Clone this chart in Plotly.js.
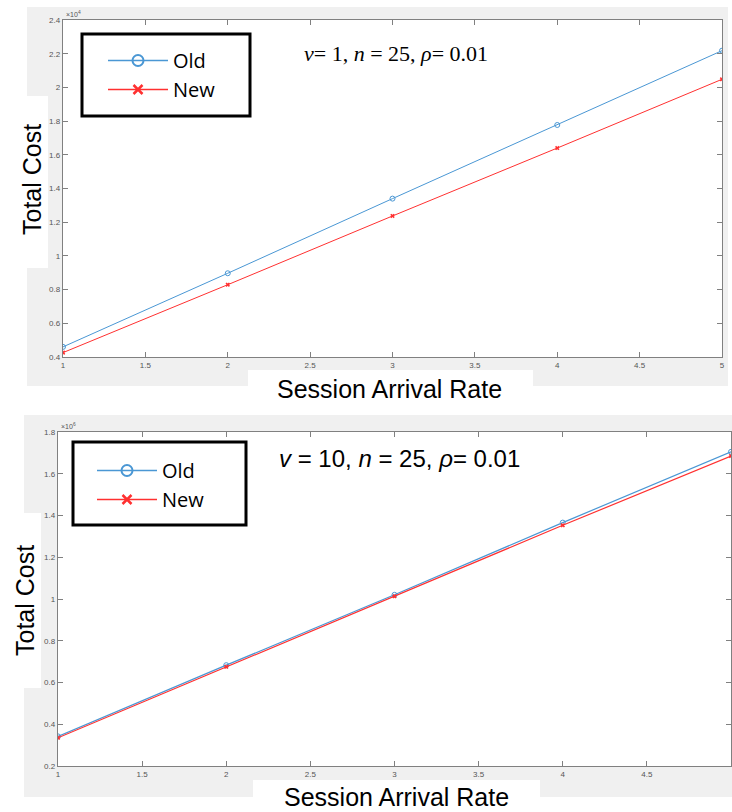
<!DOCTYPE html>
<html>
<head>
<meta charset="utf-8">
<script src="https://cdn.plot.ly/plotly-3.0.1.min.js"></script>
<style>html,body{margin:0;padding:0;background:#fff;}#chart{width:732px;height:812px;}</style>
</head>
<body>
<div id="chart"></div>
<script>
// ---- data (values in units of the axis exponent) ----
const rates = [1, 2, 3, 4, 5];
// top panel: nu = 1 (x 10^4)
const oldTop = [0.46, 0.897, 1.34, 1.777, 2.218];
const newTop = [0.426, 0.829, 1.237, 1.64, 2.048];
// bottom panel: nu = 10 (x 10^6)
const oldBottom = [0.342, 0.683, 1.02, 1.366, 1.705];
const newBottom = [0.335, 0.675, 1.013, 1.353, 1.685];
const seriesNames = ["Old", "New"];
const xTitle = "Session Arrival Rate";
const yTitle = "Total Cost";

const W = 732, H = 812;
const px = x => x / W;
const py = y => 1 - y / H;

const blue = "#4a97d4", red = "#ff3030";
const tickFont = {family: "Liberation Sans, Arial", size: 8, color: "#555"};

function axisX(domain) {
  return {domain: domain, range: [1, 5], dtick: 0.5, tick0: 1, ticks: "inside", ticklen: 5,
    tickcolor: "#808080", showline: true, linecolor: "#808080", linewidth: 1.3, mirror: "ticks",
    showgrid: false, zeroline: false, tickfont: tickFont, fixedrange: true};
}
function axisY(domain, range) {
  return {domain: domain, range: range, dtick: 0.2, tick0: 0.2, ticks: "inside", ticklen: 5,
    tickcolor: "#808080", showline: true, linecolor: "#808080", linewidth: 1.3, mirror: "ticks",
    showgrid: false, zeroline: false, tickfont: tickFont, fixedrange: true};
}

function series(y, idx, xa, ya, lw) {
  const isOld = idx === 0;
  return {x: rates, y: y, name: seriesNames[idx], type: "scatter", mode: "lines+markers", showlegend: false,
    line: {color: isOld ? blue : red, width: lw},
    marker: isOld ? {symbol: "circle-open", size: 5, color: blue, line: {width: 1}}
                  : {symbol: "x", size: 4, color: red},
    xaxis: xa, yaxis: ya};
}
// legend-only entries (no data points), styled like the reference legend samples
function legendEntry(idx, xa, ya, leg) {
  const isOld = idx === 0;
  return {x: [null], y: [null], name: seriesNames[idx], type: "scatter", mode: "lines+markers",
    line: {color: isOld ? blue : red, width: 1.5},
    marker: isOld ? {symbol: "circle-open", size: 11, color: blue, line: {width: 2}}
                  : {symbol: "x-thin-open", size: 9, color: red, line: {width: 2.5, color: red}},
    xaxis: xa, yaxis: ya, legend: leg, showlegend: true};
}

const data = [
  series(oldTop, 0, "x", "y", 1),
  series(newTop, 1, "x", "y", 1),
  series(oldBottom, 0, "x2", "y2", 1.2),
  series(newBottom, 1, "x2", "y2", 1.2),
  legendEntry(0, "x", "y", "legend"),
  legendEntry(1, "x", "y", "legend"),
  legendEntry(0, "x2", "y2", "legend2"),
  legendEntry(1, "x2", "y2", "legend2")
];

function rect(x0, y0, x1, y1, fill, layer, line) {
  return {type: "rect", xref: "paper", yref: "paper", x0: px(x0), x1: px(x1), y0: py(y1), y1: py(y0),
    fillcolor: fill, line: line || {width: 0}, layer: layer || "below"};
}

const gray = "#f0f0f0";
const shapes = [
  rect(27, 7, 728, 386, gray),
  rect(0, 96, 48, 268, "#ffffff"),
  rect(248, 370, 533, 402, "#ffffff"),
  rect(63, 20, 722, 357, "#ffffff"),
  rect(24, 415, 732, 797, gray),
  rect(0, 513, 41, 688, "#ffffff"),
  rect(253, 780, 540, 812, "#ffffff"),
  rect(58, 432, 731, 766, "#ffffff"),
  rect(82, 34, 250, 116, "rgba(0,0,0,0)", "above", {color: "#000", width: 3}),
  rect(73, 442, 246, 525, "rgba(0,0,0,0)", "above", {color: "#000", width: 3})
];

const titleFont = {family: "Liberation Sans, Arial", size: 25, color: "#000"};
function ann(text, x, y, opts) {
  return Object.assign({text: text, xref: "paper", yref: "paper", x: px(x), y: py(y), showarrow: false,
    xanchor: "center", yanchor: "middle"}, opts || {});
}
const annotations = [
  ann(yTitle, 32, 180, {textangle: -90, font: titleFont}),
  ann(xTitle, 389, 389, {font: titleFont}),
  ann(yTitle, 25, 601, {textangle: -90, font: titleFont}),
  ann(xTitle, 396, 797, {font: titleFont}),
  ann("×10<sup>4</sup>", 64, 14, {xanchor: "left", font: {family: "Liberation Sans, Arial", size: 7, color: "#555"}}),
  ann("×10<sup>6</sup>", 59, 426, {xanchor: "left", font: {family: "Liberation Sans, Arial", size: 7, color: "#555"}}),
  ann("<i>ν</i>= 1, <i>n</i> = 25, <i>ρ</i>= 0.01", 302, 53, {xanchor: "left",
    font: {family: "Liberation Serif, Times New Roman", size: 22, color: "#000"}}),
  ann("<i>v</i> = 10, <i>n</i> = 25, <i>ρ</i>= 0.01", 277, 459, {xanchor: "left",
    font: {family: "Liberation Sans, Arial", size: 24, color: "#000"}})
];

const legendFont = {family: "Open Sans, Noto Sans", size: 20, color: "#000"};
const layout = {
  width: W, height: H, margin: {l: 0, r: 0, t: 0, b: 0},
  paper_bgcolor: "#ffffff", plot_bgcolor: "#ffffff",
  xaxis: axisX([px(63), px(722)]),
  yaxis: axisY([py(357), py(20)], [0.4, 2.4]),
  xaxis2: Object.assign(axisX([px(58), px(731)]), {anchor: "y2"}),
  yaxis2: Object.assign(axisY([py(766), py(432)], [0.2, 1.8]), {anchor: "x2"}),
  showlegend: true,
  legend: {x: px(103), y: py(41), xanchor: "left", yanchor: "top", bgcolor: "rgba(0,0,0,0)",
    borderwidth: 0, font: legendFont, itemwidth: 60, tracegroupgap: 0},
  legend2: {x: px(92), y: py(451), xanchor: "left", yanchor: "top", bgcolor: "rgba(0,0,0,0)",
    borderwidth: 0, font: legendFont, itemwidth: 60, tracegroupgap: 0},
  shapes: shapes,
  annotations: annotations
};

Plotly.newPlot("chart", data, layout, {staticPlot: true, displayModeBar: false});
</script>
</body>
</html>
